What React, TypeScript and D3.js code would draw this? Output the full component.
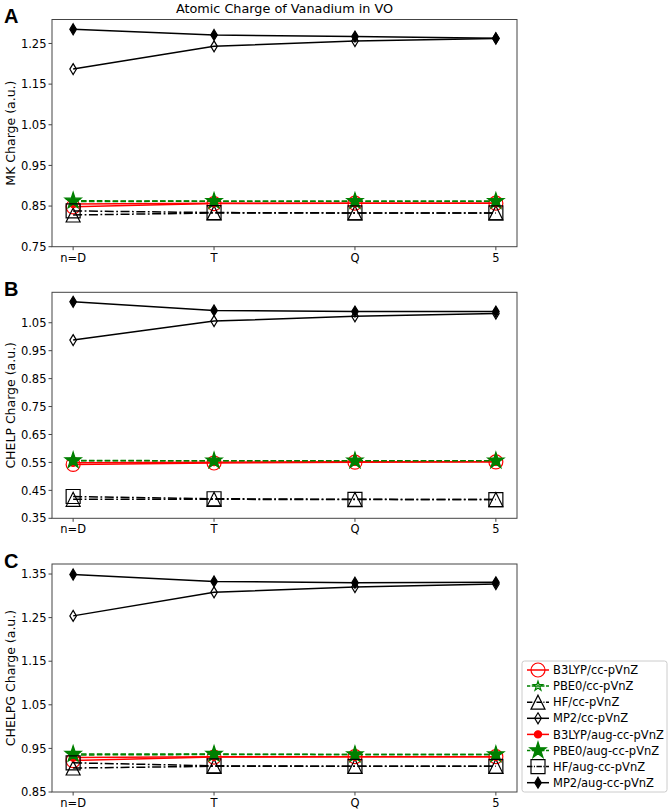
import React from "react";
import * as d3 from "d3";

const categories = ["n=D", "T", "Q", "5"];

const seriesNames = [
  "B3LYP/cc-pVnZ",
  "PBE0/cc-pVnZ",
  "HF/cc-pVnZ",
  "MP2/cc-pVnZ",
  "B3LYP/aug-cc-pVnZ",
  "PBE0/aug-cc-pVnZ",
  "HF/aug-cc-pVnZ",
  "MP2/aug-cc-pVnZ",
];

// Panel A: MK charges
const mkValues = [
  [0.848, 0.856, 0.857, 0.857],
  [0.861, 0.862, 0.862, 0.862],
  [0.828, 0.833, 0.833, 0.833],
  [1.187, 1.243, 1.256, 1.262],
  [0.855, 0.857, 0.857, 0.857],
  [0.863, 0.862, 0.862, 0.862],
  [0.838, 0.834, 0.833, 0.833],
  [1.285, 1.271, 1.267, 1.263],
];

// Panel B: CHELP charges
const chelpValues = [
  [0.543, 0.548, 0.551, 0.552],
  [0.556, 0.556, 0.556, 0.556],
  [0.418, 0.418, 0.417, 0.417],
  [0.988, 1.056, 1.073, 1.083],
  [0.549, 0.551, 0.552, 0.552],
  [0.557, 0.556, 0.556, 0.556],
  [0.428, 0.420, 0.418, 0.417],
  [1.125, 1.094, 1.090, 1.090],
];

// Panel C: CHELPG charges
const chelpgValues = [
  [0.922, 0.930, 0.931, 0.931],
  [0.935, 0.936, 0.936, 0.936],
  [0.905, 0.909, 0.909, 0.909],
  [1.254, 1.308, 1.320, 1.327],
  [0.929, 0.931, 0.931, 0.931],
  [0.937, 0.937, 0.936, 0.936],
  [0.917, 0.910, 0.909, 0.909],
  [1.349, 1.333, 1.330, 1.331],
];

const mkTicks = [0.75, 0.85, 0.95, 1.05, 1.15, 1.25];
const chelpTicks = [0.35, 0.45, 0.55, 0.65, 0.75, 0.85, 0.95, 1.05];
const chelpgTicks = [0.85, 0.95, 1.05, 1.15, 1.25, 1.35];

type Style = {
  color: string;
  dash: string | null;
  marker: "circle" | "star" | "triangle" | "diamond" | "square" | "dot";
  size: number;
  filled: boolean;
};

const styles: Style[] = [
  { color: "#ff0000", dash: null, marker: "circle", size: 7, filled: false },
  { color: "#008000", dash: "5.5,2.4", marker: "star", size: 6.5, filled: false },
  { color: "#000000", dash: "9,2.5,1.8,2.5", marker: "triangle", size: 7, filled: false },
  { color: "#000000", dash: null, marker: "diamond", size: 5.5, filled: false },
  { color: "#ff0000", dash: null, marker: "dot", size: 3.6, filled: true },
  { color: "#008000", dash: "5.5,2.4", marker: "star", size: 8.5, filled: true },
  { color: "#000000", dash: "9,2.5,1.8,2.5", marker: "square", size: 7, filled: false },
  { color: "#000000", dash: null, marker: "diamond", size: 5.5, filled: true },
];

const FONT = "DejaVu Sans, sans-serif";

function markerPath(m: Style["marker"], s: number): string {
  switch (m) {
    case "circle":
    case "dot": {
      const p = d3.path();
      p.arc(0, 0, s, 0, Math.PI * 2);
      p.closePath();
      return p.toString();
    }
    case "square":
      return `M${-s},${-s}L${s},${-s}L${s},${s}L${-s},${s}Z`;
    case "triangle":
      return `M0,${-s}L${s},${s}L${-s},${s}Z`;
    case "diamond": {
      const w = s * 0.6;
      return `M0,${-s}L${w},0L0,${s}L${-w},0Z`;
    }
    case "star": {
      const pts: [number, number][] = [];
      const inner = s * 0.382;
      for (let i = 0; i < 10; i++) {
        const r = i % 2 === 0 ? s : inner;
        const a = (Math.PI / 5) * i - Math.PI / 2;
        pts.push([r * Math.cos(a), r * Math.sin(a)]);
      }
      return "M" + pts.map((p) => p.join(",")).join("L") + "Z";
    }
  }
  return "";
}

const LEFT = 52;
const RIGHT = 517;

type PanelDef = {
  letter: string;
  label: string;
  top: number;
  bottom: number;
  domain: [number, number];
  ticks: number[];
  values: number[][];
};

const panels: PanelDef[] = [
  { letter: "A", label: "MK Charge (a.u.)", top: 19.5, bottom: 246.7, domain: [0.75, 1.309], ticks: mkTicks, values: mkValues },
  { letter: "B", label: "CHELP Charge (a.u.)", top: 292.3, bottom: 518.3, domain: [0.35, 1.159], ticks: chelpTicks, values: chelpValues },
  { letter: "C", label: "CHELPG Charge (a.u.)", top: 564, bottom: 792, domain: [0.85, 1.373], ticks: chelpgTicks, values: chelpgValues },
];

const x = d3
  .scaleLinear()
  .domain([-0.15, categories.length - 1 + 0.15])
  .range([LEFT, RIGHT]);

function Marker({ st, cx, cy }: { st: Style; cx: number; cy: number }) {
  return (
    <path
      d={markerPath(st.marker, st.size)}
      transform={`translate(${cx},${cy})`}
      fill={st.filled ? st.color : "none"}
      stroke={st.color}
      strokeWidth={1.2}
    />
  );
}

function Panel({ p }: { p: PanelDef }) {
  const y = d3.scaleLinear().domain(p.domain).range([p.bottom, p.top]);
  const line = d3
    .line<number>()
    .x((_, i) => x(i))
    .y((v) => y(v));
  const clipId = `clip-${p.letter}`;
  const midY = (p.top + p.bottom) / 2;
  return (
    <g>
      <defs>
        <clipPath id={clipId}>
          <rect x={LEFT} y={p.top} width={RIGHT - LEFT} height={p.bottom - p.top} />
        </clipPath>
      </defs>
      <g clipPath={`url(#${clipId})`}>
        {p.values.map((vals, si) => {
          const st = styles[si];
          return (
            <g key={si}>
              <path
                d={line(vals) || ""}
                fill="none"
                stroke={st.color}
                strokeWidth={1.5}
                strokeDasharray={st.dash || undefined}
              />
              {vals.map((v, i) => (
                <Marker key={i} st={st} cx={x(i)} cy={y(v)} />
              ))}
            </g>
          );
        })}
      </g>
      <rect
        x={LEFT}
        y={p.top}
        width={RIGHT - LEFT}
        height={p.bottom - p.top}
        fill="none"
        stroke="#444"
        strokeWidth={1}
      />
      {p.ticks.map((t) => (
        <g key={t}>
          <line x1={LEFT - 3.5} x2={LEFT} y1={y(t)} y2={y(t)} stroke="#444" strokeWidth={1} />
          <text
            x={LEFT - 5.5}
            y={y(t)}
            dy="0.36em"
            textAnchor="end"
            fontSize={11.5}
            fontFamily={FONT}
            fill="#000"
          >
            {t.toFixed(2)}
          </text>
        </g>
      ))}
      {categories.map((c, i) => (
        <g key={c}>
          <line x1={x(i)} x2={x(i)} y1={p.bottom} y2={p.bottom + 3.5} stroke="#444" strokeWidth={1} />
          <text
            x={x(i)}
            y={p.bottom + 15}
            textAnchor="middle"
            fontSize={11.5}
            fontFamily={FONT}
            fill="#000"
          >
            {c}
          </text>
        </g>
      ))}
      <text
        transform={`translate(10,${midY}) rotate(-90)`}
        textAnchor="middle"
        dy="0.36em"
        fontSize={12.5}
        fontFamily={FONT}
        fill="#000"
      >
        {p.label}
      </text>
      <text
        x={4}
        y={p.top + 3.5}
        fontSize={20}
        fontWeight="bold"
        fontFamily="Liberation Sans, Arial, sans-serif"
        fill="#000"
      >
        {p.letter}
      </text>
    </g>
  );
}

function Legend() {
  const lx = 522;
  const ly = 661;
  const w = 145;
  const h = 131;
  return (
    <g>
      <rect x={lx} y={ly} width={w} height={h} rx={2.5} fill="#fff" fillOpacity={0.8} stroke="#ccc" strokeWidth={1} />
      {seriesNames.map((name, i) => {
        const st = styles[i];
        const cy = 670 + i * 16.1;
        const lst: Style = { ...st, size: st.marker === "star" && !st.filled ? 5 : st.size };
        return (
          <g key={name}>
            <line
              x1={527}
              x2={549}
              y1={cy}
              y2={cy}
              stroke={st.color}
              strokeWidth={1.5}
              strokeDasharray={st.dash ? st.dash.split(",").map((d) => +d * 0.6).join(",") : undefined}
            />
            <Marker st={lst} cx={538} cy={cy} />
            <text x={553} y={cy} dy="0.36em" fontSize={11.5} fontFamily={FONT} fill="#000">
              {name}
            </text>
          </g>
        );
      })}
    </g>
  );
}

export default function App() {
  return (
    <svg
      width={671}
      height={812}
      style={{ position: "absolute", left: 0, top: 0, background: "#fff" }}
    >
      <rect x={0} y={0} width={671} height={812} fill="#fff" />
      <text
        x={(LEFT + RIGHT) / 2}
        y={13}
        textAnchor="middle"
        fontSize={12.8}
        fontFamily={FONT}
        fill="#000"
      >
        Atomic Charge of Vanadium in VO
      </text>
      {panels.map((p) => (
        <Panel key={p.letter} p={p} />
      ))}
      <Legend />
    </svg>
  );
}
